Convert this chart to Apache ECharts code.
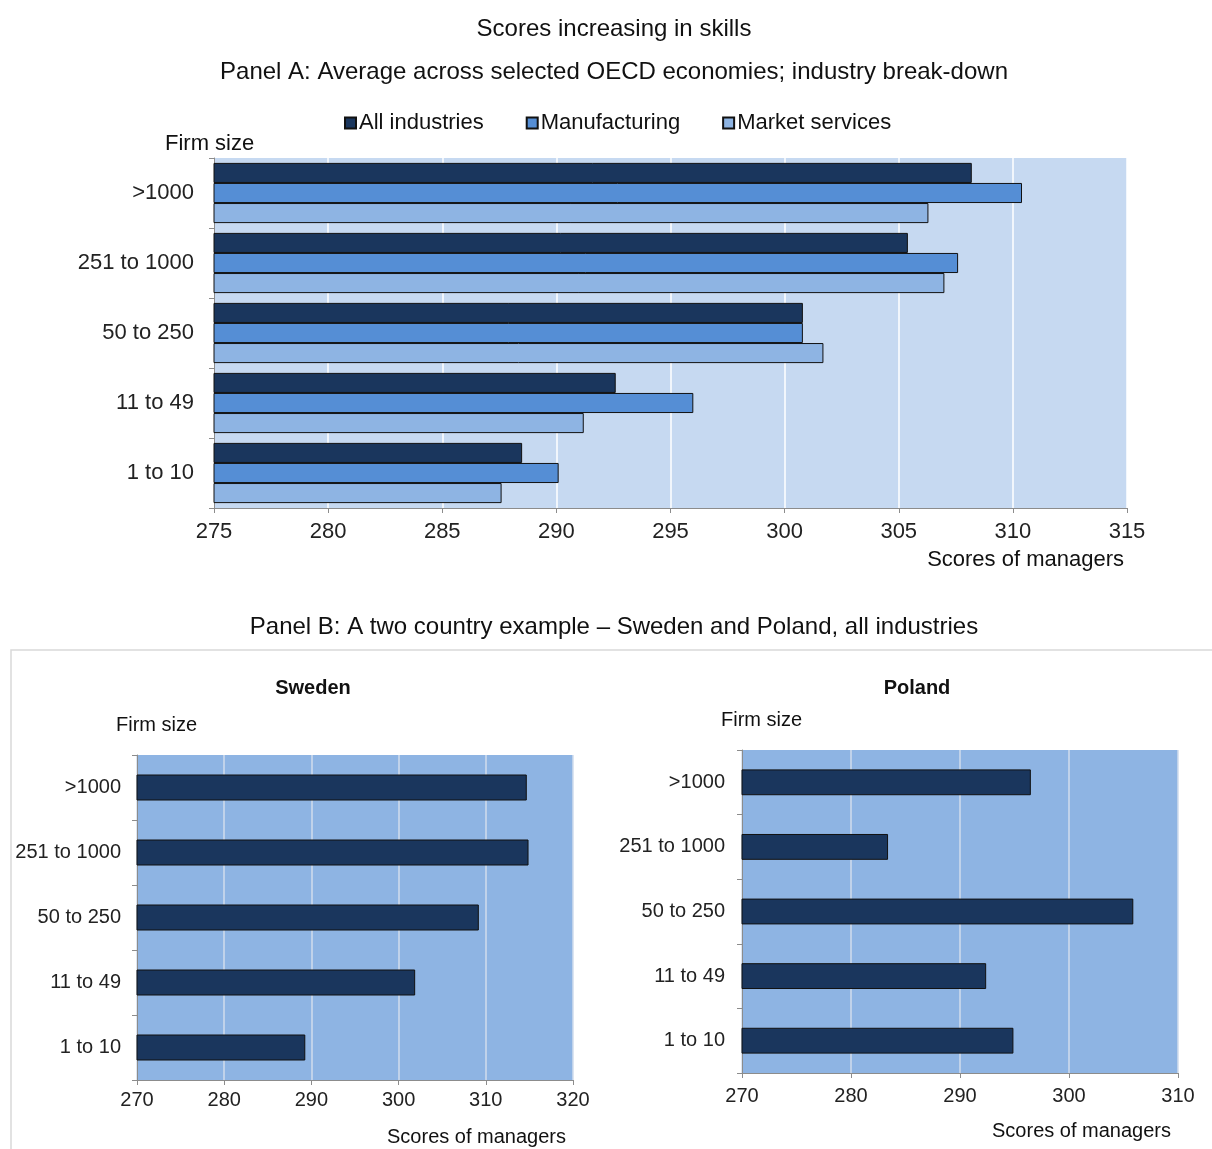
<!DOCTYPE html>
<html>
<head>
<meta charset="utf-8">
<script src="https://cdn.jsdelivr.net/npm/echarts@6/dist/echarts.min.js"></script>
<style>
  html, body { margin: 0; padding: 0; background: #fff; }
  #chart { width: 1212px; height: 1149px; }
</style>
</head>
<body>
<div id="chart"></div>
<script>
// categories, top to bottom
var firmSizes = ['>1000', '251 to 1000', '50 to 250', '11 to 49', '1 to 10']
// panel A (OECD average)
var allIndustries = [308.2, 305.4, 300.8, 292.6, 288.5]
var manufacturing = [310.4, 307.6, 300.8, 296.0, 290.1]
var marketServices = [306.3, 307.0, 301.7, 291.2, 287.6]
// panel B
var sweden = [314.7, 314.9, 309.2, 301.9, 289.3]
var poland = [296.5, 283.4, 305.9, 292.4, 294.9]

var panelATicks = { min: 275, max: 315, interval: 5 }
var swedenTicks = { min: 270, max: 320, interval: 10 }
var polandTicks = { min: 270, max: 310, interval: 10 }

var font = 'Liberation Sans, Arial, sans-serif'
var dark = '#1a365d'

function valueAxis (gridIndex, ticks, size, margin, splitColor) {
  return {
    type: 'value',
    gridIndex: gridIndex,
    min: ticks.min,
    max: ticks.max,
    interval: ticks.interval,
    axisLine: { show: true, lineStyle: { color: '#8c8c8c' } },
    axisTick: { show: true, length: 5, lineStyle: { color: '#8c8c8c' } },
    axisLabel: { color: '#222', fontSize: size, fontFamily: font, margin: margin },
    splitLine: { show: true, lineStyle: { color: splitColor, width: 1.5 } }
  }
}

function catAxis (gridIndex, size, margin) {
  return {
    type: 'category',
    gridIndex: gridIndex,
    data: firmSizes,
    inverse: true,
    axisLine: { show: true, lineStyle: { color: '#8c8c8c' } },
    axisTick: { show: true, length: 5, lineStyle: { color: '#8c8c8c' } },
    axisLabel: { color: '#222', fontSize: size, fontFamily: font, margin: margin },
    splitLine: { show: false }
  }
}

function txt (x, y, text, size, align, bold) {
  return {
    type: 'text',
    x: x,
    y: y,
    style: {
      text: text,
      fontSize: size,
      fontFamily: font,
      fontWeight: bold ? 'bold' : 'normal',
      fill: '#111',
      align: align || 'center',
      verticalAlign: 'middle'
    }
  }
}

var barBorder = { borderColor: '#111', borderWidth: 1 }

var option = {
  animation: false,
  backgroundColor: '#fff',
  grid: [
    { left: 214, top: 158, width: 913, height: 350, show: true, backgroundColor: '#c6d9f1', borderWidth: 0 },
    { left: 137, top: 755, width: 436, height: 325, show: true, backgroundColor: '#8eb4e3', borderWidth: 0 },
    { left: 742, top: 750, width: 436, height: 323, show: true, backgroundColor: '#8eb4e3', borderWidth: 0 }
  ],
  legend: {
    top: 107,
    left: 339,
    itemWidth: 11,
    itemHeight: 11,
    itemGap: 42,
    icon: 'rect',
    textStyle: { fontSize: 22, fontFamily: font, color: '#111', padding: [0, 0, 0, -2] },
    data: ['All industries', 'Manufacturing', 'Market services']
  },
  xAxis: [
    valueAxis(0, panelATicks, 22, 13, '#ffffff'),
    valueAxis(1, swedenTicks, 20, 10, '#d0dcec'),
    valueAxis(2, polandTicks, 20, 13, '#d0dcec')
  ],
  yAxis: [
    catAxis(0, 22, 20),
    catAxis(1, 20, 16),
    catAxis(2, 20, 17)
  ],
  series: [
    { name: 'All industries', type: 'bar', xAxisIndex: 0, yAxisIndex: 0, data: allIndustries,
      barGap: '0%', barCategoryGap: '14%', itemStyle: Object.assign({ color: dark }, barBorder) },
    { name: 'Manufacturing', type: 'bar', xAxisIndex: 0, yAxisIndex: 0, data: manufacturing,
      barGap: '0%', barCategoryGap: '14%', itemStyle: Object.assign({ color: '#558ed5' }, barBorder) },
    { name: 'Market services', type: 'bar', xAxisIndex: 0, yAxisIndex: 0, data: marketServices,
      barGap: '0%', barCategoryGap: '14%', itemStyle: Object.assign({ color: '#8eb4e3' }, barBorder) },
    { name: 'Sweden', type: 'bar', xAxisIndex: 1, yAxisIndex: 1, data: sweden,
      barWidth: '40%', itemStyle: Object.assign({ color: dark }, barBorder) },
    { name: 'Poland', type: 'bar', xAxisIndex: 2, yAxisIndex: 2, data: poland,
      barWidth: '40%', itemStyle: Object.assign({ color: dark }, barBorder) }
  ],
  graphic: [
    {
      type: 'rect',
      shape: { x: 11, y: 650, width: 1210, height: 510 },
      style: { fill: 'none', stroke: '#d9d9d9', lineWidth: 1.5 }
    },
    txt(614, 29, 'Scores increasing in skills', 24),
    txt(614, 72, 'Panel A: Average across selected OECD economies; industry break-down', 24),
    txt(165, 144, 'Firm size', 22, 'left'),
    txt(1124, 560, 'Scores of managers', 22, 'right'),
    txt(614, 627, 'Panel B: A two country example \u2013 Sweden and Poland, all industries', 24),
    txt(313, 688, 'Sweden', 20, 'center', true),
    txt(116, 725, 'Firm size', 20, 'left'),
    txt(566, 1137, 'Scores of managers', 20, 'right'),
    txt(917, 688, 'Poland', 20, 'center', true),
    txt(721, 720, 'Firm size', 20, 'left'),
    txt(1171, 1131, 'Scores of managers', 20, 'right')
  ]
}

var myChart = echarts.init(document.getElementById('chart'))
myChart.setOption(option)
</script>
</body>
</html>
